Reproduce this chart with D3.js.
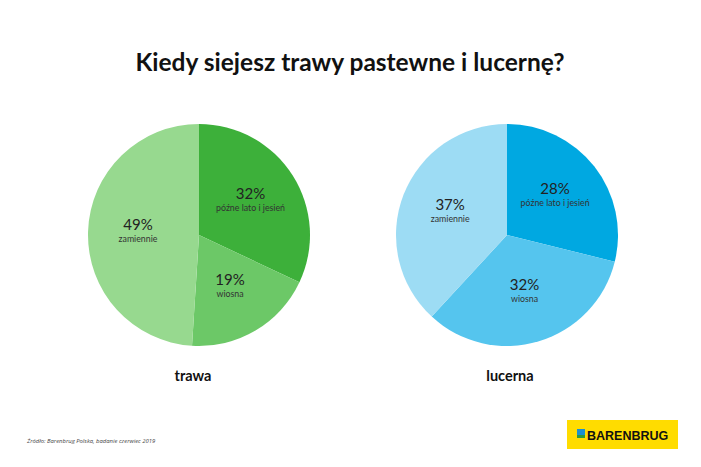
<!DOCTYPE html>
<html><head><meta charset="utf-8">
<script src="https://cdn.jsdelivr.net/npm/d3@7"></script>
<style>body{margin:0;background:#fff}svg{display:block}</style>
</head><body>
<svg id="c" width="701" height="467"></svg>
<script>
const title = "Kiedy siejesz trawy pastewne i lucernę?";
const categories = ["późne lato i jesień", "wiosna", "zamiennie"];
const pieNames = ["trawa", "lucerna"];
const trawaValues = [32, 19, 49];
const lucernaValues = [28, 32, 37];
const trawaColors = ["#3db03a", "#6cc867", "#97d98f"];
const lucernaColors = ["#00a8e1", "#55c5ee", "#9ddcf4"];
const source = "Źródło: Barenbrug Polska, badanie czerwiec 2019";

const svg = d3.select("#c");
const font = "Lato, 'Open Sans', sans-serif";

svg.append("text").attr("x", 350).attr("y", 71).attr("text-anchor", "middle")
  .attr("font-family", font).attr("font-weight", 700).attr("font-size", 24.5)
  .attr("fill", "#111").text(title);

const pies = [
  {name: pieNames[0], values: trawaValues, colors: trawaColors, cx: 199, nameDx: -6},
  {name: pieNames[1], values: lucernaValues, colors: lucernaColors, cx: 507, nameDx: 3}
];
const cy = 235, r = 111;
const pie = d3.pie().sort(null).value(d => d.v);
const arc = d3.arc().innerRadius(0).outerRadius(r);
const labelArc = d3.arc().innerRadius(r * 0.55).outerRadius(r * 0.55);

pies.forEach(p => {
  const data = p.values.map((v, i) => ({v, c: categories[i], col: p.colors[i]}));
  const g = svg.append("g").attr("transform", `translate(${p.cx},${cy})`);
  const arcs = pie(data);
  g.selectAll("path").data(arcs).join("path")
    .attr("d", arc).attr("fill", d => d.data.col);
  const lab = g.selectAll("g.l").data(arcs).join("g").attr("class", "l")
    .attr("transform", d => { const [x, y] = labelArc.centroid(d); return `translate(${x},${y})`; });
  lab.append("text").attr("text-anchor", "middle").attr("y", -3)
    .attr("font-family", font).attr("font-size", 15).attr("fill", "#222")
    .text(d => d.data.v + "%");
  lab.append("text").attr("text-anchor", "middle").attr("y", 9)
    .attr("font-family", font).attr("font-size", 8.8).attr("fill", "#333")
    .text(d => d.data.c);
  svg.append("text").attr("x", p.cx + p.nameDx).attr("y", 381).attr("text-anchor", "middle")
    .attr("font-family", font).attr("font-weight", 700).attr("font-size", 14.5)
    .attr("fill", "#111").text(p.name);
});

svg.append("text").attr("x", 27).attr("y", 443)
  .attr("font-family", "'Open Sans', sans-serif").attr("font-style", "italic")
  .attr("font-size", 5.9).attr("fill", "#444").text(source);

// logo
const lg = svg.append("g");
lg.append("rect").attr("x", 567).attr("y", 420).attr("width", 111).attr("height", 29).attr("fill", "#ffdc00");
lg.append("rect").attr("x", 577).attr("y", 429).attr("width", 8).attr("height", 6).attr("fill", "#1a8fd0");
lg.append("rect").attr("x", 577).attr("y", 435).attr("width", 8).attr("height", 3).attr("fill", "#2e9a3c");
lg.append("text").attr("x", 587).attr("y", 439.5)
  .attr("font-family", "'Liberation Sans', Arial, sans-serif").attr("font-weight", 700)
  .attr("font-size", 12.5).attr("fill", "#111").text("BARENBRUG");
</script>
</body></html>
